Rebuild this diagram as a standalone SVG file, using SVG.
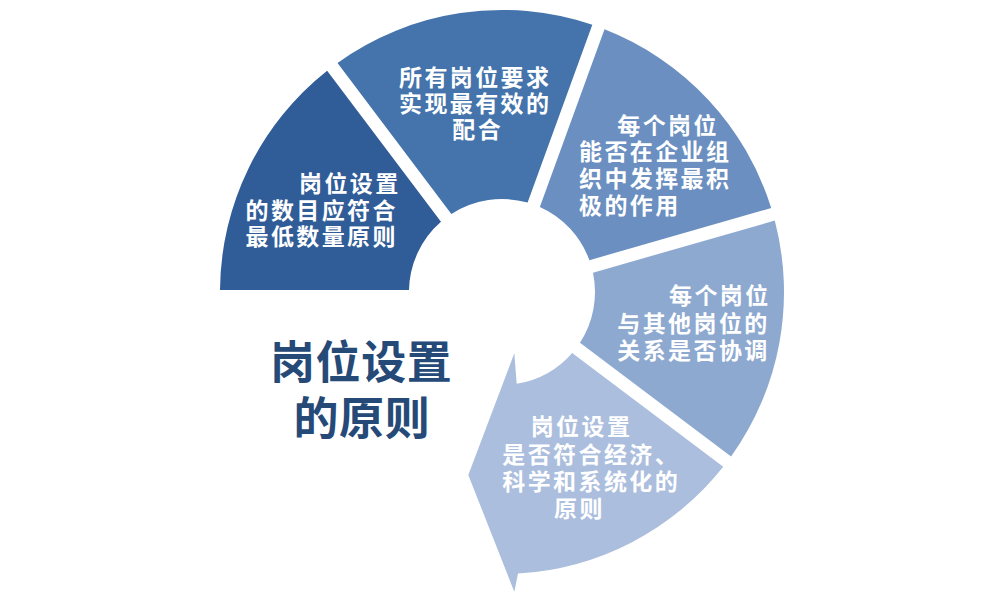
<svg xmlns="http://www.w3.org/2000/svg" width="1000" height="600" viewBox="0 0 1000 600">
  <style>
    .seg-text { font-family: "Noto Sans CJK SC", "Noto Sans", sans-serif; font-size: 23px; font-weight: 700; fill: #ffffff; letter-spacing: 2.4px; }
    .title { font-family: "Noto Sans CJK SC", "Noto Sans", sans-serif; font-size: 45px; font-weight: 700; fill: #264a78; letter-spacing: 0.6px; }
  </style>
  <rect x="0" y="0" width="1000" height="600" fill="#ffffff"/>
  <g id="connectors"/>
  <g id="seg1">
    <path d="M 220,290 A 282 282 0 0 1 327.14,70.75 L 440.98,221.82 A 93 93 0 0 0 409,290 Z" fill="#305c98"/>
    <text class="seg-text" x="299" y="192">岗位设置</text>
    <text class="seg-text" x="245.5" y="218.5">的数目应符合</text>
    <text class="seg-text" x="245.5" y="245">最低数量原则</text>
  </g>
  <g id="seg2">
    <path d="M 337.52,62.93 A 282 282 0 0 1 592.31,24.86 L 527.62,202.6 A 93 93 0 0 0 451.36,214 Z" fill="#4474ab"/>
    <text class="seg-text" x="399" y="85.5">所有岗位要求</text>
    <text class="seg-text" x="399" y="112">实现最有效的</text>
    <text class="seg-text" x="452.3" y="138">配合</text>
  </g>
  <g id="seg3">
    <path d="M 604.53,29.3 A 282 282 0 0 1 771.21,208.04 L 589.39,260.18 A 93 93 0 0 0 539.84,207.04 Z" fill="#6a8fc0"/>
    <text class="seg-text" x="617.3" y="133.5">每个岗位</text>
    <text class="seg-text" x="579" y="160">能否在企业组</text>
    <text class="seg-text" x="579" y="187">织中发挥最积</text>
    <text class="seg-text" x="579" y="213.5">极的作用</text>
  </g>
  <g id="seg4">
    <path d="M 774.79,220.54 A 282 282 0 0 1 731.07,456.48 L 580,342.64 A 93 93 0 0 0 592.97,272.68 Z" fill="#8ea9d0"/>
    <text class="seg-text" x="669" y="303.5">每个岗位</text>
    <text class="seg-text" x="617.3" y="331.5">与其他岗位的</text>
    <text class="seg-text" x="617.3" y="358.5">关系是否协调</text>
  </g>
  <g id="seg5">
    <path d="M 723.25,466.86 A 282 282 0 0 1 518,573.55 L 514.3,591.7 L 468.3,475 L 514.3,353.3 L 516.7,383.83 A 93 93 0 0 0 572.18,353.02 Z" fill="#abbedd"/>
    <text class="seg-text" x="530.7" y="435">岗位设置</text>
    <text class="seg-text" x="502.3" y="463">是否符合经济、</text>
    <text class="seg-text" x="502.3" y="490">科学和系统化的</text>
    <text class="seg-text" x="554" y="516.5">原则</text>
  </g>
  <g id="title">
    <text class="title" x="270" y="379">岗位设置</text>
    <text class="title" x="293.5" y="435">的原则</text>
  </g>
</svg>
